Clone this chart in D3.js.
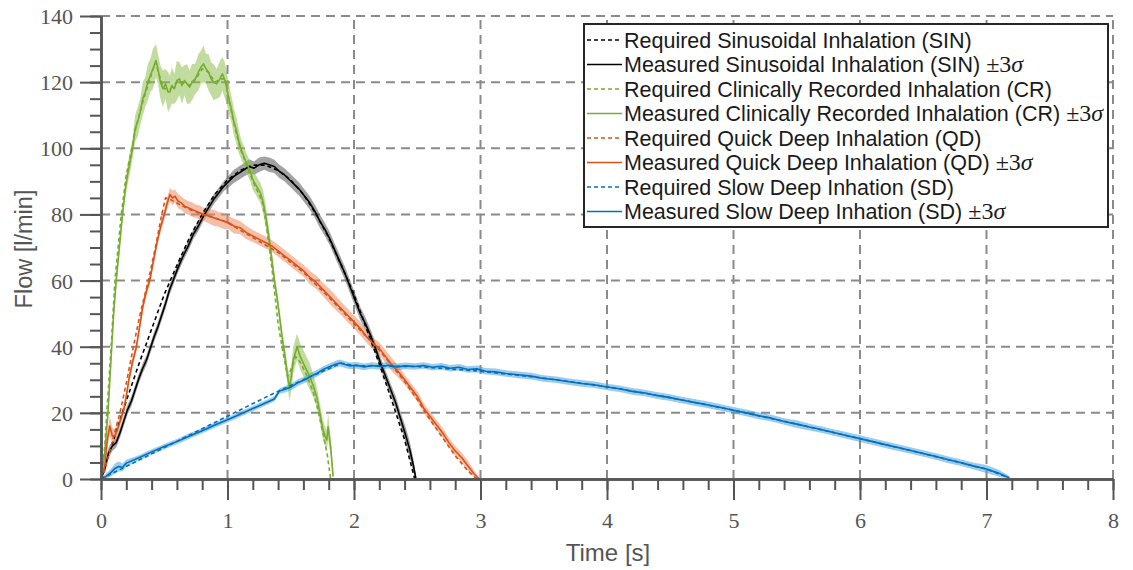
<!DOCTYPE html>
<html><head><meta charset="utf-8">
<script src="https://cdn.jsdelivr.net/npm/d3@7"></script>
<style>body{margin:0;background:#fff}</style>
</head><body><svg id="c" width="1133" height="570"></svg>
<script>
// ---------- data ----------
const xTicks = [0,1,2,3,4,5,6,7,8];
const yTicks = [0,20,40,60,80,100,120,140];
const legendLabels = [
  "Required Sinusoidal Inhalation (SIN)",
  "Measured Sinusoidal Inhalation (SIN)",
  "Required Clinically Recorded Inhalation (CR)",
  "Measured Clinically Recorded Inhalation (CR)",
  "Required Quick Deep Inhalation (QD)",
  "Measured Quick Deep Inhalation (QD)",
  "Required Slow Deep Inhation (SD)",
  "Measured Slow Deep Inhation (SD)"
];
const seriesColors = ["#000000","#77AC30","#D95319","#0072BD"];
const bandColors = ["#555555","#8fc050","#ea8a60","#4aa0dd"];

// [time, flow]
const sinReq = [[0,0],[0.1,11.9],[0.2,23.6],[0.3,34.8],[0.4,45.3],[0.5,55.8],[0.6,64.6],[0.7,73.0],[0.8,80.1],[0.9,86.1],[1.0,90.4],[1.1,93.3],[1.2,94.9],[1.3,94.9],[1.4,93.3],[1.5,90.4],[1.6,86.1],[1.7,80.1],[1.8,73.0],[1.9,64.6],[2.0,55.8],[2.1,45.3],[2.2,34.8],[2.3,23.6],[2.4,11.9],[2.48,0]];
// [time, flow, 3sigma]
const sinMeas = [[0,0,0.5],[0.03,3,1],[0.06,8,1.5],[0.09,10,1.5],[0.12,11,1.5],[0.15,14,1.5],[0.18,17.5,1.5],[0.21,21,1.5],[0.24,23.5,1.5],[0.27,27,1.5],[0.30,30.5,1.5],[0.33,33.5,1.5],[0.36,36,1.5],[0.39,39.5,1.5],[0.42,43,1.5],[0.45,46,1.5],[0.48,49.5,1.5],[0.51,53,1.5],[0.54,57,1.5],[0.57,60,1.5],[0.61,64,1.5],[0.65,67.5,1.5],[0.69,70.5,1.5],[0.73,74,1.5],[0.77,76.5,1.5],[0.81,79.5,1.5],[0.85,82,1.5],[0.89,84.5,1.5],[0.93,86.5,1.5],[0.97,88.5,1.5],[1.01,90,1.8],[1.05,91.5,2],[1.09,92.5,2],[1.13,93.5,2],[1.17,94.5,2.2],[1.21,94,2],[1.25,95,2.2],[1.29,95.5,2],[1.33,95,2.2],[1.37,94.5,2],[1.41,93,2],[1.45,92,2],[1.49,90.5,2],[1.53,89,2],[1.57,87.5,2],[1.61,85.5,2],[1.65,83.5,2],[1.69,81,2],[1.73,78,2],[1.77,75.5,2],[1.81,72.5,2],[1.85,69,2],[1.89,65.5,2],[1.93,62,2],[1.97,58,2],[2.01,54,2],[2.05,50,2],[2.09,47,2],[2.13,43.5,1.8],[2.17,39.5,1.8],[2.21,35,1.8],[2.25,31,1.8],[2.29,27,1.8],[2.33,23,2],[2.37,18,2],[2.41,13,2.5],[2.44,9,2.5],[2.47,4,2],[2.49,0,1]];

const crReq = [[0,0],[0.03,10],[0.045,20],[0.06,28],[0.08,40],[0.11,60],[0.14,72],[0.16,80],[0.2,92],[0.25,101],[0.28,107],[0.33,114],[0.38,120],[0.43,126],[0.47,121],[0.5,118],[0.55,118],[0.6,120],[0.65,120],[0.7,119],[0.75,121],[0.8,124],[0.85,123],[0.9,120],[0.95,121],[0.98,121],[1.02,113],[1.06,106],[1.1,100],[1.15,95],[1.2,90],[1.25,86],[1.28,83],[1.31,76],[1.35,64],[1.40,47],[1.44,38],[1.475,31],[1.5,33],[1.54,37],[1.58,35],[1.63,31],[1.68,26],[1.72,20],[1.76,13],[1.79,7],[1.815,0]];
const crMeas = [[0,0,1],[0.03,8,1.5],[0.055,20,2],[0.07,30,2],[0.085,40,2],[0.10,50,2],[0.12,60,2],[0.145,70,2],[0.17,80,2],[0.19,87,2.5],[0.21,92,3],[0.23,96,3.5],[0.25,100,3],[0.27,106,4],[0.29,108,4.5],[0.31,111,4],[0.33,115,5],[0.35,117,4.5],[0.37,120,5.5],[0.39,122,5],[0.41,124,6],[0.435,126.5,5],[0.45,124,4.5],[0.47,120,5],[0.49,118,5.5],[0.51,119.5,4.5],[0.53,117,6],[0.545,117,5],[0.56,119,5.5],[0.58,118,4.5],[0.60,120.5,6],[0.62,121,5],[0.64,119,5.5],[0.66,120.5,4.5],[0.68,119.5,6],[0.70,118.5,5],[0.72,120,5.5],[0.745,121,4.5],[0.77,123,5.5],[0.79,124.5,5],[0.81,125.5,5.5],[0.83,124,4.5],[0.85,123,5.5],[0.87,121,5],[0.89,120,5.5],[0.915,119.5,4.5],[0.94,121,5.5],[0.96,122.5,5],[0.975,121,5.5],[0.99,119,5],[1.01,115,4.5],[1.03,112,4],[1.05,108,4],[1.07,105.5,4],[1.09,102,3.5],[1.11,99.5,3],[1.13,97.5,3],[1.15,95.5,3],[1.18,93,3],[1.20,90.5,3],[1.23,88.5,3],[1.26,86.5,3],[1.28,84,3.5],[1.30,80,3.5],[1.32,75,3],[1.335,71,3],[1.355,65,2.5],[1.375,59,2],[1.395,54,2],[1.415,48,2],[1.435,42,2],[1.455,37,2.5],[1.475,31,3],[1.49,27.5,4],[1.505,31,4],[1.52,36,4],[1.55,40,4],[1.575,37,4],[1.60,35,4],[1.625,33,4],[1.65,31,4],[1.68,28,3.5],[1.705,24.9,3],[1.73,20,3],[1.755,14.8,3],[1.77,13,3],[1.785,11.8,3],[1.795,15.8,4],[1.805,13,3.5],[1.815,9.8,2.5],[1.835,0.7,1]];

const qdReq = [[0,0],[0.015,0.5],[0.08,10],[0.15,20],[0.2,29],[0.256,40],[0.31,50],[0.374,60],[0.43,70],[0.48,80],[0.51,85],[0.55,84.5],[0.62,83],[0.7,81.5],[0.8,80],[0.9,79],[1.0,77.5],[1.2,73],[1.4,68.5],[1.6,62.5],[1.8,55],[2.0,47],[2.2,39],[2.4,29.5],[2.5,24],[2.6,18],[2.7,12.5],[2.8,7],[2.9,2.5],[2.97,0]];
const qdMeas = [[0,0,0.5],[0.03,4,1],[0.05,12,2.5],[0.07,16,3],[0.09,13,2.5],[0.11,13,2],[0.13,15,2],[0.155,18,1.5],[0.18,21,1.5],[0.2,25,1.5],[0.22,30,1.5],[0.25,35.5,1.5],[0.28,40,1.5],[0.305,46,1.5],[0.33,52,1.5],[0.36,57,1.5],[0.385,60,1.5],[0.41,65,1.5],[0.44,71,1.5],[0.47,76,1.5],[0.5,80,1.5],[0.52,83,1.8],[0.545,86,2],[0.565,85,2.2],[0.585,85.5,2],[0.61,84,2.2],[0.635,83.5,2],[0.66,82.5,2.2],[0.69,82,2],[0.72,81.5,2.2],[0.75,81,2],[0.78,80.5,2.2],[0.81,80,2],[0.85,79.5,2.2],[0.89,79,2.4],[0.93,78.5,2.2],[0.97,78,2.4],[1.01,77.5,2],[1.05,76.5,2.2],[1.10,76,2],[1.15,74.5,2],[1.20,73.5,1.8],[1.25,72.5,1.8],[1.30,71.5,1.8],[1.35,70.5,1.8],[1.40,69,1.8],[1.45,67.5,1.8],[1.50,66,1.8],[1.55,64.5,1.8],[1.60,63,1.8],[1.65,61,2],[1.70,59.5,2],[1.75,57.5,2],[1.80,55.5,2.2],[1.85,53.5,2.2],[1.90,51.5,2],[1.95,49.5,2],[2.00,47.5,2],[2.05,45.5,2],[2.10,43,1.8],[2.15,41,1.8],[2.20,39.5,1.8],[2.25,37,2],[2.30,34.5,2],[2.35,32.5,1.8],[2.40,30,1.5],[2.45,27.5,1.5],[2.50,25,1.5],[2.55,21.5,1.5],[2.60,19,1.5],[2.65,16.5,1.5],[2.70,14,1.5],[2.75,11,1.5],[2.80,8.5,1.5],[2.85,6.5,1.5],[2.90,4,1.5],[2.95,1.5,1],[2.99,0,0.5]];

const sdReq = [[0,0],[0.5,9.5],[1.0,19],[1.37,26],[1.6,30],[1.9,35],[2.0,34.3],[2.5,34],[3.0,32.6],[3.5,30.5],[4.0,27.9],[4.5,24.6],[5.0,20.8],[5.5,16.6],[6.0,12.2],[6.5,7.7],[7.0,3],[7.18,0.3]];
const sdMeas = [[0,0,0.3],[0.04,0.8,0.8],[0.08,2,1.2],[0.11,3.2,1.5],[0.14,3.8,1.5],[0.17,3.5,1.2],[0.20,4.8,1],[0.30,6.4,0.8],[0.40,8.2,0.8],[0.50,9.8,0.8],[0.60,11.3,0.8],[0.70,13,0.8],[0.80,14.6,0.8],[0.90,16.3,0.8],[1.00,17.9,0.8],[1.10,19.6,0.8],[1.20,21.3,0.8],[1.30,23,0.8],[1.37,24.2,0.8],[1.41,26.6,0.8],[1.46,27.2,1],[1.51,28,1],[1.56,29.2,1],[1.61,30,1],[1.66,31.1,1],[1.71,32,1],[1.76,33.2,1],[1.81,34,1],[1.86,34.8,1],[1.89,35.1,1],[1.93,34.6,1],[1.97,34.2,1],[2.02,34.4,1],[2.08,33.9,1],[2.14,34.3,1],[2.20,34,1],[2.27,34.4,1],[2.34,33.9,1],[2.41,34.2,1],[2.48,34,1],[2.55,34.3,1],[2.62,33.8,1],[2.69,34.1,1],[2.76,33.5,1],[2.83,33.8,1],[2.90,33.1,1],[2.97,33.3,1],[3.04,32.6,1],[3.12,32.4,1],[3.20,31.9,1],[3.30,31.5,1],[3.40,31.1,1],[3.50,30.4,1],[3.60,30,1],[3.70,29.4,1],[3.80,28.9,1],[3.90,28.5,1],[4.00,27.8,1],[4.10,27.3,1],[4.20,26.5,1],[4.30,26,1],[4.40,25.2,1],[4.50,24.6,1],[4.60,23.8,1],[4.70,23.1,1],[4.80,22.4,1],[4.90,21.6,1],[5.00,20.8,1],[5.10,20,1],[5.20,19.1,1],[5.30,18.4,1],[5.40,17.4,1],[5.50,16.6,1.2],[5.60,15.7,1],[5.70,14.9,1],[5.80,14,1],[5.90,13.1,1],[6.00,12.2,1],[6.10,11.3,1],[6.20,10.4,1],[6.30,9.5,1],[6.40,8.6,1],[6.50,7.7,1],[6.60,6.8,1],[6.70,5.8,1],[6.80,4.9,1],[6.90,3.9,1],[7.00,3,1.2],[7.10,1.7,1],[7.18,0.4,0.5]];

const reqSeries = [sinReq, crReq, qdReq, sdReq];
const measSeries = [sinMeas, crMeas, qdMeas, sdMeas];

// ---------- chart ----------
const svg = d3.select("#c");
const x = d3.scaleLinear().domain([0,8]).range([101,1113]);
const y = d3.scaleLinear().domain([0,140]).range([479,16]);
const axisCol = "#555555";
const serif = "'Liberation Serif','Times New Roman',serif";
const sans = "'Liberation Sans',Arial,Helvetica,sans-serif";

// grid
const grid = svg.append("g").attr("stroke","#8a8a8a").attr("stroke-width",2).attr("stroke-dasharray","9,6").attr("fill","none");
grid.selectAll("line.v").data(xTicks.filter(d=>d>0)).join("line")
  .attr("x1",d=>x(d)).attr("x2",d=>x(d)).attr("y1",y(0)).attr("y2",y(140));
grid.selectAll("line.h").data(yTicks.filter(d=>d>0)).join("line")
  .attr("y1",d=>y(d)).attr("y2",d=>y(d)).attr("x1",x(0)).attr("x2",x(8));

// bands and lines
const area = d3.area().x(d=>x(d[0])).y0(d=>y(Math.max(0,d[1]-d[2]))).y1(d=>y(d[1]+d[2]));
const line = d3.line().x(d=>x(d[0])).y(d=>y(d[1]));
measSeries.forEach((s,i)=>{
  svg.append("path").attr("d",area(s)).attr("fill",bandColors[i]).attr("fill-opacity",0.55);
});
measSeries.forEach((s,i)=>{
  svg.append("path").attr("d",line(reqSeries[i])).attr("fill","none").attr("stroke",seriesColors[i])
    .attr("stroke-width",1.6).attr("stroke-dasharray","4,3");
  svg.append("path").attr("d",line(s)).attr("fill","none").attr("stroke",seriesColors[i])
    .attr("stroke-width",1.6).attr("stroke-linejoin","round");
});

// axes
function styleAxis(g){
  g.select(".domain").attr("stroke",axisCol).attr("stroke-width",2.5);
  g.selectAll(".tick line").attr("stroke",axisCol).attr("stroke-width",2);
}
const xMinor = d3.range(0,41).map(i=>i*0.2);
const yMinor = d3.range(0,29).map(i=>i*5);
const gxm = svg.append("g").attr("transform",`translate(0,${y(0)})`)
  .call(d3.axisBottom(x).tickValues(xMinor).tickSize(11).tickSizeOuter(0).tickFormat(""));
styleAxis(gxm);
const gx = svg.append("g").attr("transform",`translate(0,${y(0)})`)
  .call(d3.axisBottom(x).tickValues(xTicks).tickSize(21).tickSizeOuter(0).tickFormat(d3.format("d")));
styleAxis(gx);
gx.selectAll(".tick text").attr("y",49).attr("dy",0).attr("fill",axisCol)
  .style("font-family",serif).style("font-size","22px");
const gym = svg.append("g").attr("transform",`translate(${x(0)},0)`)
  .call(d3.axisLeft(y).tickValues(yMinor).tickSize(11).tickSizeOuter(0).tickFormat(""));
styleAxis(gym);
const gy = svg.append("g").attr("transform",`translate(${x(0)},0)`)
  .call(d3.axisLeft(y).tickValues(yTicks).tickSize(21).tickSizeOuter(0).tickFormat(d3.format("d")));
styleAxis(gy);
gy.selectAll(".tick text").attr("x",-28).attr("dy","0.34em").attr("fill",axisCol)
  .style("font-family",serif).style("font-size","22px");

// axis titles
svg.append("text").attr("x",608).attr("y",561).attr("text-anchor","middle")
  .attr("fill",axisCol).style("font-family",sans).style("font-size","24px").text("Time [s]");
svg.append("text").attr("transform","translate(32,249) rotate(-90)").attr("text-anchor","middle")
  .attr("fill",axisCol).style("font-family",sans).style("font-size","23.5px").text("Flow [l/min]");

// legend
const lg = svg.append("g");
lg.append("rect").attr("x",584).attr("y",24).attr("width",524).attr("height",203)
  .attr("fill","#fff").attr("stroke","#262626").attr("stroke-width",2);
legendLabels.forEach((lab,i)=>{
  const cy = 40 + i*24.5;
  const si = Math.floor(i/2);
  const measured = i%2===1;
  lg.append("line").attr("x1",587).attr("x2",622).attr("y1",cy).attr("y2",cy)
    .attr("stroke",seriesColors[si]).attr("stroke-width",1.6)
    .attr("stroke-dasharray",measured?null:"4,3");
  const t = lg.append("text").attr("x",624).attr("y",cy+7.5).attr("fill","#1a1a1a")
    .style("font-family",sans).style("font-size","21.5px");
  t.append("tspan").text(lab);
  if(measured){
    t.append("tspan").style("font-family",serif).style("font-size","24px").text(" \u00B13");
    t.append("tspan").style("font-family",serif).style("font-style","italic").style("font-size","24px").text("\u03C3");
  }
});
</script>
</body></html>
